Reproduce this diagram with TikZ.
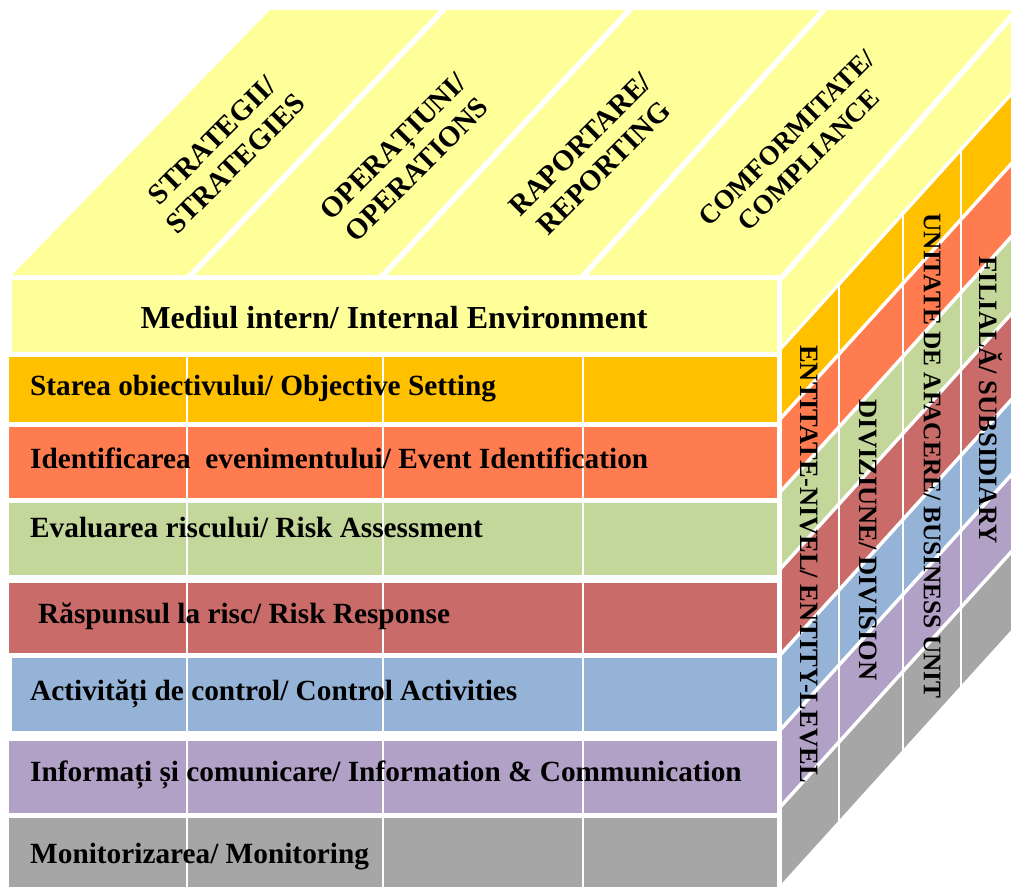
\documentclass[tikz,border=0pt]{standalone}
\usepackage{fontspec}
\setmainfont{Liberation Serif}
\usetikzlibrary{calc}
\newcommand{\gapcolor}{white}
\definecolor{objectiveyellow}{HTML}{FFFF99}
\definecolor{settingorange}{HTML}{FFC000}
\definecolor{eventcoral}{HTML}{FF7C50}
\definecolor{assessgreen}{HTML}{C4D79B}
\definecolor{responsered}{HTML}{C96B68}
\definecolor{controlblue}{HTML}{95B3D7}
\definecolor{infopurple}{HTML}{B2A1C7}
\definecolor{monitorgray}{HTML}{A6A6A6}
\tikzstyle{rowlabel}=[anchor=base west, inner sep=0, font=\fontsize{29.3}{32}\selectfont\bfseries]
\tikzstyle{toplabel}=[align=center, inner sep=0, rotate=45, font=\fontsize{29}{33}\selectfont\bfseries]
\tikzstyle{sidelabel}=[inner sep=0, rotate=-90, font=\fontsize{26.5}{30}\selectfont\bfseries]
\tikzstyle{stripline}=[\gapcolor, line width=5.5, shorten <=-3pt, shorten >=-3pt]
\tikzstyle{bandline}=[\gapcolor, line width=3.5, shorten <=-3pt, shorten >=-3pt]
\tikzstyle{columnline}=[\gapcolor, line width=1.6, shorten <=-2pt, shorten >=-2pt]
\begin{document}
\begin{tikzpicture}[x=1pt, y=-1pt]
    \clip (0,0) rectangle (1011,886);
    \begin{scope}[local bounding box=cube]
        % Top face
        \coordinate (topBL) at (12,275);
        \coordinate (topBR) at (783.8,275);
        \coordinate (topTL) at (270,10);
        \coordinate (topTR) at (1017.2,10);
        \fill[objectiveyellow] (topBL) -- (topTL) -- (topTR) -- (topBR) -- cycle;
        \draw[stripline] ($(topBL)!0.232!(topBR)$) -- ($(topTL)!0.232!(topTR)$);
        \draw[stripline] ($(topBL)!0.481!(topBR)$) -- ($(topTL)!0.481!(topTR)$);
        \draw[stripline] ($(topBL)!0.741!(topBR)$) -- ($(topTL)!0.741!(topTR)$);

        % Front face
        \fill[objectiveyellow] (12,280) rectangle (777,352);
        \fill[settingorange] (9,357) rectangle (777,422);
        \fill[eventcoral] (9,427) rectangle (777,498);
        \fill[assessgreen] (9,503) rectangle (777,575);
        \fill[responsered] (9,583) rectangle (777,653);
        \fill[controlblue] (12,658) rectangle (777,731);
        \fill[infopurple] (9,741) rectangle (777,813);
        \fill[monitorgray] (9,818) rectangle (777,890);
        \draw[\gapcolor, line width=1.5] (187,355) -- (187,890);
        \draw[\gapcolor, line width=1.5] (383,355) -- (383,890);
        \draw[\gapcolor, line width=1.5] (583,355) -- (583,890);

        % Side face
        \fill[objectiveyellow] (782,277) -- (1022,4.5) -- (1022,82) -- (782,347) -- cycle;
        \fill[settingorange] (782,347) -- ++(240,-265) -- ++(0,70) -- ++(-240,265) -- cycle;
        \fill[eventcoral] (782,417) -- ++(240,-265) -- ++(0,73) -- ++(-240,265) -- cycle;
        \fill[assessgreen] (782,490) -- ++(240,-265) -- ++(0,77) -- ++(-240,265) -- cycle;
        \fill[responsered] (782,567) -- ++(240,-265) -- ++(0,86) -- ++(-240,265) -- cycle;
        \fill[controlblue] (782,653) -- ++(240,-265) -- ++(0,75) -- ++(-240,265) -- cycle;
        \fill[infopurple] (782,728) -- ++(240,-265) -- ++(0,77) -- ++(-240,265) -- cycle;
        \fill[monitorgray] (782,805) -- ++(240,-265) -- ++(0,78) -- ++(-240,265) -- cycle;
        \draw[stripline] (782,277) -- (1022,4.5);
        \draw[bandline] (782,347) -- ++(240,-265);
        \draw[bandline] (782,417) -- ++(240,-265);
        \draw[bandline] (782,490) -- ++(240,-265);
        \draw[bandline] (782,567) -- ++(240,-265);
        \draw[bandline] (782,653) -- ++(240,-265);
        \draw[bandline] (782,728) -- ++(240,-265);
        \draw[bandline] (782,805) -- ++(240,-265);
        \coordinate (sideTop) at (782,347);
        \coordinate (sideTopEnd) at (1022,82);
        \coordinate (sideBot) at (782,883);
        \coordinate (sideBotEnd) at (1022,618);
        \draw[columnline] ($(sideTop)!0.2375!(sideTopEnd)$) -- ($(sideBot)!0.2375!(sideBotEnd)$);
        \draw[columnline] ($(sideTop)!0.504!(sideTopEnd)$) -- ($(sideBot)!0.504!(sideBotEnd)$);
        \draw[columnline] ($(sideTop)!0.746!(sideTopEnd)$) -- ($(sideBot)!0.746!(sideBotEnd)$);

        % Labels
        \node[toplabel] at (224, 152) (strategies) {STRATEGII/\\STRATEGIES};
        \node[toplabel] at (405, 158) (operations) {OPERAȚIUNI/\\OPERATIONS};
        \node[toplabel] at (592, 156) (reporting) {RAPORTARE/\\REPORTING};
        \node[toplabel, font=\fontsize{27}{31}\selectfont\bfseries] at (798, 149) (compliance) {COMFORMITATE/\\COMPLIANCE};

        \node[rowlabel, anchor=base, font=\fontsize{32}{36}\selectfont\bfseries] at (394, 328) (internalEnvironment) {Mediul intern/ Internal Environment};
        \node[rowlabel] at (30, 395) (objectiveSetting) {Starea obiectivului/ Objective Setting};
        \node[rowlabel] at (30, 468) (eventIdentification) {Identificarea\ \ evenimentului/ Event Identification};
        \node[rowlabel] at (30, 537) (riskAssessment) {Evaluarea riscului/ Risk Assessment};
        \node[rowlabel] at (38, 623) (riskResponse) {Răspunsul la risc/ Risk Response};
        \node[rowlabel] at (30, 700) (controlActivities) {Activități de control/ Control Activities};
        \node[rowlabel] at (30, 781) (infoCommunication) {Informați și comunicare/ Information \& Communication};
        \node[rowlabel] at (30, 863) (monitoring) {Monitorizarea/ Monitoring};

        \node[sidelabel] at (809, 564) (entityLevel) {ENTITATE-NIVEL/ ENTITY-LEVEL};
        \node[sidelabel] at (868, 540) (division) {DIVIZIUNE/ DIVISION};
        \node[sidelabel, font=\fontsize{25.3}{29}\selectfont\bfseries] at (932, 456) (businessUnit) {UNITATE DE AFACERE/ BUSINESS UNIT};
        \node[sidelabel] at (991, 400) (subsidiary) {FILIALĂ/ SUBSIDIARY};
    \end{scope}
\end{tikzpicture}
\end{document}
